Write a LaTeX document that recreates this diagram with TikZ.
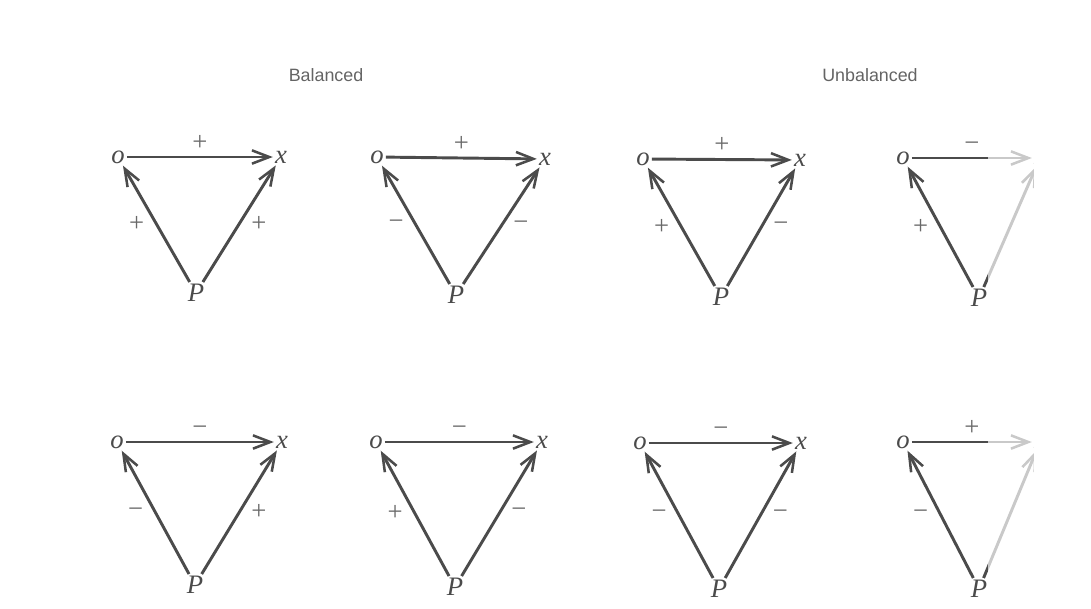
\documentclass[tikz,border=0pt]{standalone}
\usepackage{fontspec}
\setmainfont{Liberation Serif}
\newfontfamily\headfont{Liberation Sans}
\usetikzlibrary{arrows.meta}
\definecolor{inkgray}{RGB}{75,75,75}
\definecolor{signgray}{RGB}{105,105,105}
\definecolor{headgray}{RGB}{100,100,100}
\tikzset{
  heading/.style={text=headgray, font=\headfont\fontsize{13.4}{15}\selectfont},
  vertex/.style={inner sep=1.5pt, text=inkgray, font=\itshape\fontsize{20}{20}\selectfont},
  relation/.style={draw=inkgray, line width=2.2pt,
    -{Straight Barb[length=13pt,width=10pt,line width=1.9pt]}},
  sign/.style={inner sep=1pt, text=signgray, font=\fontsize{20}{20}\selectfont},
}
\begin{document}
\begin{tikzpicture}[x=0.75pt,y=-0.75pt]
\useasboundingbox (0,0) rectangle (1091,608);
\node[heading] (bal) at (326,75) {Balanced};
\node[heading] (unbal) at (870,75) {Unbalanced};
% one triangle per entry: o, x, P and the signs of o-x, P-o, P-x
\foreach \n/\ox/\oy/\xx/\xy/\px/\py/\st/\sl/\sr in {
  1/118/157/281/157/196/293/+/+/+,
  2/377/157/545/159/456/295/+/−/−,
  3/643/159/800/160/721/297/+/+/−,
  4/903/158/1040/158/979/298/−/+/{},
  5/117/442/282/442/195/585/−/−/+,
  6/376/442/542/442/455/587/−/+/−,
  7/640/443/801/443/719/589/−/−/−,
  8/903/442/1040/442/979/589/+/−/{}}{
  \node[vertex] (o\n) at (\ox,\oy) {o};
  \node[vertex] (x\n) at (\xx,\xy) {x};
  \node[vertex] (P\n) at (\px,\py) {P};
  \draw[relation] (o\n) -- node[sign,above=3pt]{\st} (x\n);
  \draw[relation] (P\n) -- node[sign,left=7pt]{\sl} (o\n);
  \draw[relation] (P\n) -- node[sign,right=7pt]{\sr} (x\n);
}
% edge of the scanned page
\fill[white,opacity=0.7] (988,110) rectangle (1034,608);
\fill[white] (1034,0) rectangle (1091,608);
\end{tikzpicture}
\end{document}
